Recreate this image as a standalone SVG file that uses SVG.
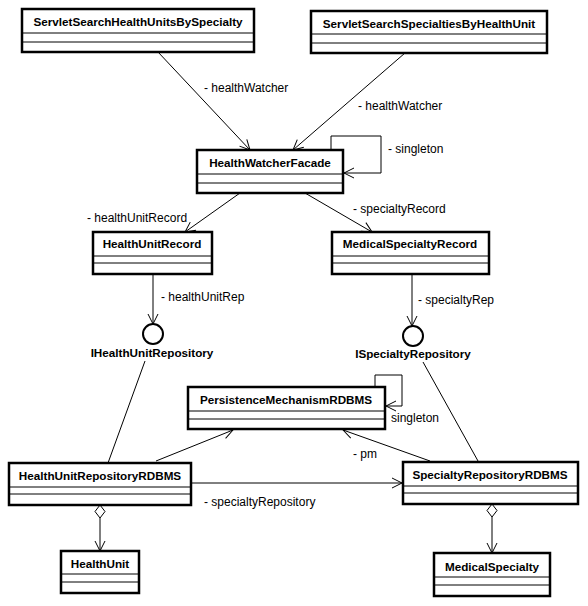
<svg xmlns="http://www.w3.org/2000/svg" width="588" height="606" viewBox="0 0 588 606">
<defs>
<marker id="open" markerWidth="12" markerHeight="12" refX="11" refY="6" orient="auto" markerUnits="userSpaceOnUse">
<path d="M1,1 L11,6 L1,11" fill="none" stroke="#000" stroke-width="1"/>
</marker>
</defs>
<style>
.box{fill:#fff;stroke:#000;stroke-width:2.5}
.div{stroke:#000;stroke-width:1;fill:none}
.name{font-family:"Liberation Sans",Arial,sans-serif;font-weight:bold;font-size:11.7px;text-anchor:middle;fill:#000}
.lbl{font-family:"Liberation Sans",Arial,sans-serif;font-size:12px;fill:#000}
.ln{stroke:#000;stroke-width:1;fill:none}
.arr{marker-end:url(#open)}
.dia{fill:#fff;stroke:#000;stroke-width:1}
</style>
<rect width="588" height="606" fill="#fff"/>

<g id="connectors">
<line class="ln arr" x1="158" y1="52" x2="250" y2="150"/>
<line class="ln arr" x1="405" y1="53" x2="293" y2="150"/>
<polyline class="ln arr" points="331,150 331,136 381,136 381,173 344,173"/>
<line class="ln arr" x1="240" y1="193" x2="185" y2="232"/>
<line class="ln arr" x1="305" y1="193" x2="372" y2="232"/>
<line class="ln arr" x1="153" y1="274" x2="153" y2="324"/>
<line class="ln arr" x1="412" y1="274" x2="412" y2="326"/>
<line class="ln" x1="145" y1="361" x2="108" y2="463"/>
<line class="ln" x1="423" y1="362" x2="478" y2="461"/>
<polyline class="ln arr" points="375,387 375,375 402,375 402,406 386,406"/>
<line class="ln arr" x1="156" y1="461" x2="233" y2="430"/>
<line class="ln arr" x1="430" y1="461" x2="343" y2="430"/>
<line class="ln arr" x1="191" y1="483" x2="402" y2="483"/>
<path class="dia" d="M100,505 L105,511.5 L100,518 L95,511.5 Z"/>
<line class="ln arr" x1="100" y1="518" x2="100" y2="551"/>
<path class="dia" d="M492,504 L497,510.5 L492,517 L487,510.5 Z"/>
<line class="ln arr" x1="492" y1="517" x2="492" y2="553"/>
<text class="lbl" x="204" y="92">- healthWatcher</text>
<text class="lbl" x="358" y="110">- healthWatcher</text>
<text class="lbl" x="388" y="153">- singleton</text>
<text class="lbl" x="87" y="222">- healthUnitRecord</text>
<text class="lbl" x="353" y="213">- specialtyRecord</text>
<text class="lbl" x="161" y="301">- healthUnitRep</text>
<text class="lbl" x="418" y="304">- specialtyRep</text>
<text class="lbl" x="391" y="422">singleton</text>
<text class="lbl" x="353" y="458">- pm</text>
<text class="lbl" x="204" y="506">- specialtyRepository</text>
</g>

<g id="ServletSearchHealthUnitsBySpecialty">
<rect class="box" x="22" y="9" width="232" height="43"/>
<line class="div" x1="22" y1="33" x2="254" y2="33"/>
<line class="div" x1="22" y1="42" x2="254" y2="42"/>
<text class="name" x="138" y="26">ServletSearchHealthUnitsBySpecialty</text>
</g>

<g id="ServletSearchSpecialtiesByHealthUnit">
<rect class="box" x="311" y="11" width="236" height="42"/>
<line class="div" x1="311" y1="34" x2="547" y2="34"/>
<line class="div" x1="311" y1="43" x2="547" y2="43"/>
<text class="name" x="429" y="28">ServletSearchSpecialtiesByHealthUnit</text>
</g>

<g id="HealthWatcherFacade">
<rect class="box" x="197" y="150" width="146" height="43"/>
<line class="div" x1="197" y1="174" x2="343" y2="174"/>
<line class="div" x1="197" y1="183" x2="343" y2="183"/>
<text class="name" x="270" y="167">HealthWatcherFacade</text>
</g>

<g id="HealthUnitRecord">
<rect class="box" x="93" y="232" width="119" height="42"/>
<line class="div" x1="93" y1="256" x2="212" y2="256"/>
<line class="div" x1="93" y1="263" x2="212" y2="263"/>
<text class="name" x="152" y="248">HealthUnitRecord</text>
</g>

<g id="MedicalSpecialtyRecord">
<rect class="box" x="332" y="232" width="157" height="42"/>
<line class="div" x1="332" y1="256" x2="489" y2="256"/>
<line class="div" x1="332" y1="263" x2="489" y2="263"/>
<text class="name" x="410" y="248">MedicalSpecialtyRecord</text>
</g>

<g id="IHealthUnitRepository">
<circle cx="153" cy="334" r="10" fill="#fff" stroke="#000" stroke-width="2"/>
<text class="name" x="152" y="357">IHealthUnitRepository</text>
</g>

<g id="ISpecialtyRepository">
<circle cx="413" cy="336" r="10" fill="#fff" stroke="#000" stroke-width="2"/>
<text class="name" x="413" y="358">ISpecialtyRepository</text>
</g>

<g id="PersistenceMechanismRDBMS">
<rect class="box" x="188" y="387" width="197" height="42"/>
<line class="div" x1="188" y1="411" x2="385" y2="411"/>
<line class="div" x1="188" y1="419" x2="385" y2="419"/>
<text class="name" x="286" y="404">PersistenceMechanismRDBMS</text>
</g>

<g id="HealthUnitRepositoryRDBMS">
<rect class="box" x="9" y="463" width="182" height="42"/>
<line class="div" x1="9" y1="487" x2="191" y2="487"/>
<line class="div" x1="9" y1="494" x2="191" y2="494"/>
<text class="name" x="100" y="480">HealthUnitRepositoryRDBMS</text>
</g>

<g id="SpecialtyRepositoryRDBMS">
<rect class="box" x="403" y="462" width="175" height="42"/>
<line class="div" x1="403" y1="486" x2="578" y2="486"/>
<line class="div" x1="403" y1="493" x2="578" y2="493"/>
<text class="name" x="490" y="479">SpecialtyRepositoryRDBMS</text>
</g>

<g id="HealthUnit">
<rect class="box" x="61" y="551" width="78" height="42"/>
<line class="div" x1="61" y1="574" x2="139" y2="574"/>
<line class="div" x1="61" y1="582" x2="139" y2="582"/>
<text class="name" x="100" y="568">HealthUnit</text>
</g>

<g id="MedicalSpecialty">
<rect class="box" x="434" y="553" width="116" height="43"/>
<line class="div" x1="434" y1="577" x2="550" y2="577"/>
<line class="div" x1="434" y1="585" x2="550" y2="585"/>
<text class="name" x="492" y="571">MedicalSpecialty</text>
</g>
</svg>
